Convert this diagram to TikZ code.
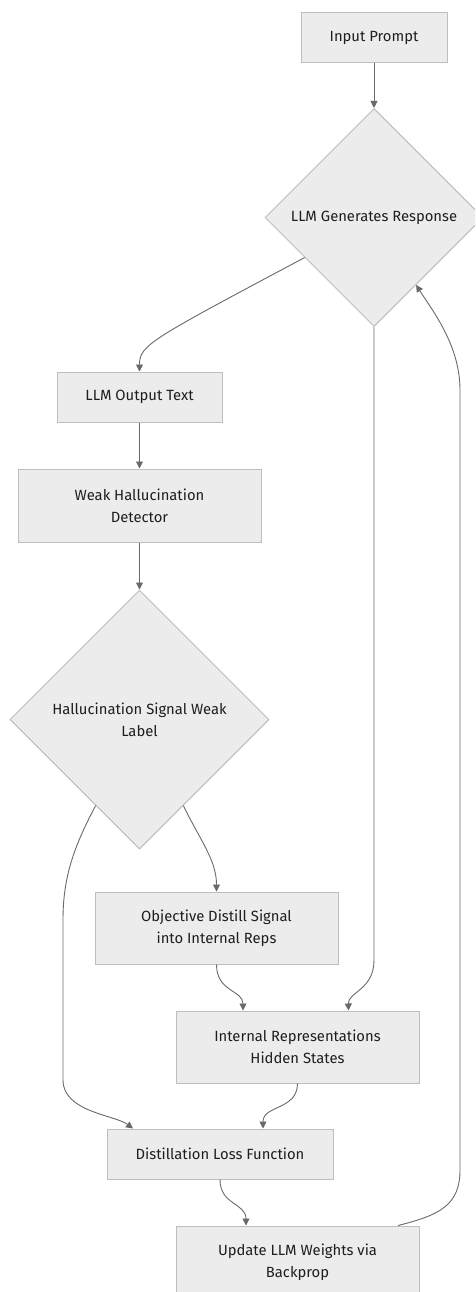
\documentclass[tikz,border=0pt]{standalone}
\usepackage{fontspec}
\setmainfont{Fira Sans}
\usetikzlibrary{shapes.geometric, arrows.meta, positioning}
\definecolor{boxfill}{RGB}{236,236,236}
\definecolor{boxline}{RGB}{190,190,190}
\definecolor{edgeline}{RGB}{105,105,105}
\definecolor{textgray}{RGB}{30,30,30}

\begin{document}
\begin{tikzpicture}[x=1pt, y=1pt, font=\fontsize{14.8}{22}\selectfont, text=textgray]
\tikzstyle{stage} = [rectangle, draw=boxline, fill=boxfill, align=center, minimum height=50pt, inner sep=0pt, line width=1pt]
\tikzstyle{decide} = [diamond, draw=boxline, fill=boxfill, align=center, aspect=1, inner sep=0pt, line width=1pt]
\tikzstyle{line} = [draw, -{Triangle[length=7pt, width=7pt]}, edgeline, line width=0.9pt]

\useasboundingbox (0,0) rectangle (475,-1292);
\clip (0,0) rectangle (475,-1292);

\node (prompt) [stage, minimum width=146pt] at (374,-37.5) {Input Prompt};
\node (gen) [decide, minimum size=218pt, below=45pt of prompt] {LLM Generates Response};
\node (out) [stage, minimum width=165pt] at (139.5,-397) {LLM Output Text};
\node (weak) [stage, minimum width=243pt, minimum height=73pt, below=46pt of out] {Weak Hallucination\\Detector};
\node (hal) [decide, minimum size=259pt, below=47pt of weak] {Hallucination Signal Weak\\Label};
\node (obj) [stage, minimum width=243pt, minimum height=72pt] at (216.5,-928) {Objective Distill Signal\\into Internal Reps};
\node (rep) [stage, minimum width=243pt, minimum height=72pt] at (297.5,-1047) {Internal Representations\\Hidden States};
\node (loss) [stage, minimum width=226pt] at (220,-1154) {Distillation Loss Function};
\node (upd) [stage, minimum width=243pt, minimum height=72pt] at (297.5,-1262) {Update LLM Weights via\\Backprop};

\draw [line] (prompt) -- (gen);
\draw [line] (gen.210) .. controls (150,-340) and (139.5,-345) .. (out.north);
\draw [line] (gen.south) -- (374,-960) .. controls (374,-990) and (348,-992) .. ([xshift=51pt]rep.north);
\draw [line] (out) -- (weak);
\draw [line] (weak) -- (hal);
\draw [line] (hal.297) .. controls (200,-840) and (216.5,-860) .. (obj.north);
\draw [line] (hal.243) .. controls (72,-850) and (63,-880) .. (63,-920) -- (63,-1080) .. controls (63,-1112) and (115,-1115) .. ([xshift=-87pt]loss.north);
\draw [line] (obj.south) .. controls (216.5,-992) and (243,-990) .. ([xshift=-54.5pt]rep.north);
\draw [line] (rep.south) .. controls (297.5,-1110) and (263,-1105) .. ([xshift=43pt]loss.north);
\draw [line] (loss.south) .. controls (220,-1205) and (246,-1203) .. ([xshift=-51.5pt]upd.north);
\draw [line] ([xshift=100.5pt]upd.north) .. controls (440,-1215) and (460,-1205) .. (460,-1170) -- (460,-390) .. controls (460,-345) and (432,-310) .. (gen.302);
\end{tikzpicture}
\end{document}
